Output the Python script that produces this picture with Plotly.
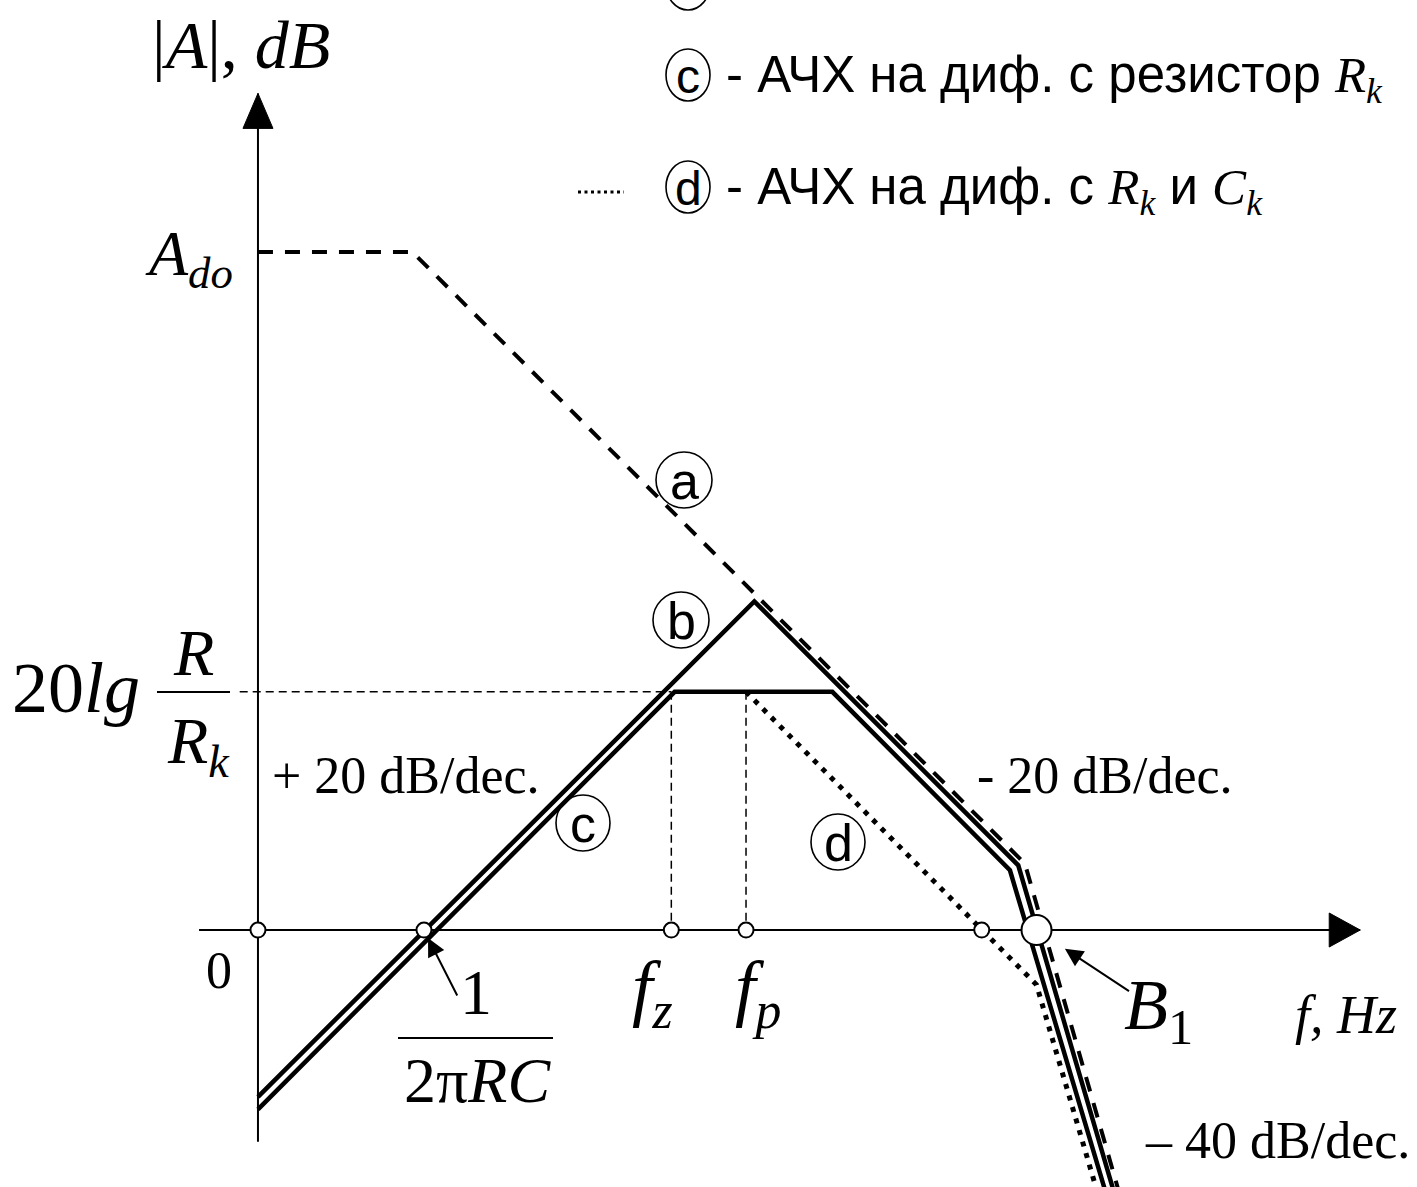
import plotly.graph_objects as go

# ---- frequency positions (decades from the |A| axis) and levels (dB) ----
F_RC = 1.00      # 1/(2*pi*R*C)
F_Z = 2.49       # zero f_z
F_P = 2.94       # pole f_p
F_D0 = 4.36      # 0 dB crossing of curve d
F_B1 = 4.69      # bandwidth B1
G_RK = 28.7      # 20 lg R/Rk

# asymptotic magnitude curves: breakpoints (decade, dB)
a_f = [0.00, 0.93, 4.62, 5.20]          # open-loop differential gain
a_db = [81.7, 81.7, 8.0, -32.5]
b_f = [0.00, 2.99, 4.58, 5.17]          # differentiator
b_db = [-20.1, 39.6, 7.8, -32.5]
c_f = [0.00, 2.51, 3.46, 4.53, 5.12]    # differentiator with Rk
c_db = [-21.6, 28.7, 28.7, 7.2, -32.5]
d_f = [2.94, 4.69, 5.07]                # differentiator with Rk and Ck
d_db = [28.7, -6.6, -32.5]

axis_marks = [0.0, F_RC, F_Z, F_P, F_D0]

# ---- canvas ----
W, H = 1417, 1187
X_RANGE = [-1.554, 6.982]
Y_RANGE = [-30.96, 112.05]
AX_X0, AX_X1 = -0.355, 6.64
AX_Y0, AX_Y1 = -25.5, 100.8

SERIF = "Liberation Serif, Times New Roman, serif"
SANS = "Liberation Sans, Arial, sans-serif"
INK = "black"


def paper(px, py):
    return dict(x=px / W, y=1 - py / H, xref="paper", yref="paper")


fig = go.Figure()

# guide lines at 20 lg R/Rk, f_z and f_p
fig.add_trace(go.Scatter(
    x=[-0.11, F_Z, None, F_Z, F_Z, None, F_P, F_P],
    y=[G_RK, G_RK, None, G_RK, 0, None, G_RK, 0],
    mode="lines", line=dict(color=INK, width=1.5, dash="8px,5px"),
    hoverinfo="skip"))

fig.add_trace(go.Scatter(x=a_f, y=a_db, mode="lines",
                         line=dict(color=INK, width=4, dash="15px,12px")))
fig.add_trace(go.Scatter(x=d_f, y=d_db, mode="lines",
                         line=dict(color=INK, width=5, dash="5px,7px")))
fig.add_trace(go.Scatter(x=b_f, y=b_db, mode="lines",
                         line=dict(color=INK, width=4.5)))
fig.add_trace(go.Scatter(x=c_f, y=c_db, mode="lines",
                         line=dict(color=INK, width=4.5)))

# characteristic points on the frequency axis
fig.add_trace(go.Scatter(
    x=axis_marks, y=[0] * len(axis_marks), mode="markers",
    marker=dict(size=15, color="white", line=dict(color=INK, width=2))))
fig.add_trace(go.Scatter(
    x=[F_B1], y=[0], mode="markers",
    marker=dict(size=30, color="white", line=dict(color=INK, width=2))))

shapes = [
    # axes
    dict(type="line", x0=AX_X0, x1=AX_X1, y0=0, y1=0, xref="x", yref="y",
         line=dict(color=INK, width=2), layer="below"),
    dict(type="line", x0=0, x1=0, y0=AX_Y0, y1=AX_Y1, xref="x", yref="y",
         line=dict(color=INK, width=2), layer="below"),
    dict(type="path", xref="x", yref="y", xsizemode="pixel", ysizemode="pixel",
         xanchor=0, yanchor=AX_Y1, path="M0,0 L-15,-35 L15,-35 Z",
         fillcolor=INK, line=dict(color=INK, width=1)),
    dict(type="path", xref="x", yref="y", xsizemode="pixel", ysizemode="pixel",
         xanchor=AX_X1, yanchor=0, path="M0,0 L-31,17 L-31,-17 Z",
         fillcolor=INK, line=dict(color=INK, width=1)),
]


def hbar(x0, x1, py):
    p0, p1 = paper(x0, py), paper(x1, py)
    return dict(type="line", xref="paper", yref="paper",
                x0=p0["x"], x1=p1["x"], y0=p0["y"], y1=p1["y"],
                line=dict(color=INK, width=2))


shapes += [hbar(157, 230, 692), hbar(398, 553, 1038)]

# legend sample for the dotted curve
shapes.append(dict(hbar(578, 624, 192), line=dict(color=INK, width=3, dash="3px,3.5px")))

annotations = []


def label(text, px, py, size, family=SERIF, xanchor="center", yanchor="middle"):
    annotations.append(dict(text=text, showarrow=False, xanchor=xanchor, yanchor=yanchor,
                            font=dict(family=family, size=size, color=INK),
                            **paper(px, py)))


def circled(letter, px, py, w, h, size):
    p0, p1 = paper(px - w / 2, py - h / 2), paper(px + w / 2, py + h / 2)
    shapes.append(dict(type="circle", xref="paper", yref="paper",
                       x0=p0["x"], x1=p1["x"], y0=p1["y"], y1=p0["y"],
                       line=dict(color=INK, width=1.6)))
    if letter:
        label(letter, px, py + 1, size, family=SANS)


# circled curve labels
circled("a", 684, 480, 56, 56, 52)
circled("b", 681, 620, 56, 56, 52)
circled("c", 583, 823, 54, 56, 52)
circled("d", 838, 842, 54, 56, 52)
circled("", 688, -16, 44, 52, 48)
circled("c", 688, 75, 44, 52, 48)
circled("d", 688, 187, 44, 52, 48)

SPAN = "<span style='font-family:Liberation Serif;color:black'>"
RK = SPAN + "<i>R</i><sub><i>k</i></sub></span>"
CK = SPAN + "<i>C</i><sub><i>k</i></sub></span>"
label("- АЧХ на диф. с резистор " + RK, 724, 78, 51, family=SANS, xanchor="left")
label("- АЧХ на диф. с " + RK + " и " + CK, 724, 190, 51, family=SANS, xanchor="left")

# axis titles and level labels
label("|<i>A</i>|, <i>dB</i>", 150, 45, 68, xanchor="left")
label("<i>A</i><sub><i>do</i></sub>", 235, 258, 64, xanchor="right")
label("20<i>lg</i>", 142, 688, 72, xanchor="right")
label("<i>R</i>", 193, 652, 66)
label("<i>R</i><sub><i>k</i></sub>", 198, 745, 66)
label("0", 219, 970, 52)
label("1", 476, 993, 64)
label("2π<i>RC</i>", 477, 1080, 64)
label("<i>f</i><sub><i>z</i></sub>", 630, 993, 74, xanchor="left")
label("<i>f</i><sub><i>p</i></sub>", 733, 993, 74, xanchor="left")
label("<i>B</i><sub>1</sub>", 1122, 1010, 72, xanchor="left")
label("<i>f, Hz</i>", 1293, 1015, 54, xanchor="left")

# slope labels
label("+ 20 dB/dec.", 270, 775, 52, xanchor="left")
label("- 20 dB/dec.", 975, 775, 52, xanchor="left")
label("– 40 dB/dec.", 1412, 1140, 52, xanchor="right")

# pointers to 1/(2πRC) and B1
for fx, ax, ay, standoff in [(F_RC, 34, 67, 9), (F_B1, 94, 62, 34)]:
    annotations.append(dict(x=fx, y=0, xref="x", yref="y", ax=ax, ay=ay, text="",
                            showarrow=True, arrowhead=2, arrowsize=1.8, arrowwidth=2,
                            arrowcolor=INK, standoff=standoff))

fig.update_layout(
    width=W, height=H, margin=dict(l=0, r=0, t=0, b=0),
    paper_bgcolor="white", plot_bgcolor="white", showlegend=False,
    xaxis=dict(range=X_RANGE, visible=False, fixedrange=True),
    yaxis=dict(range=Y_RANGE, visible=False, fixedrange=True),
    shapes=shapes, annotations=annotations,
)

fig.write_html("out.html")
